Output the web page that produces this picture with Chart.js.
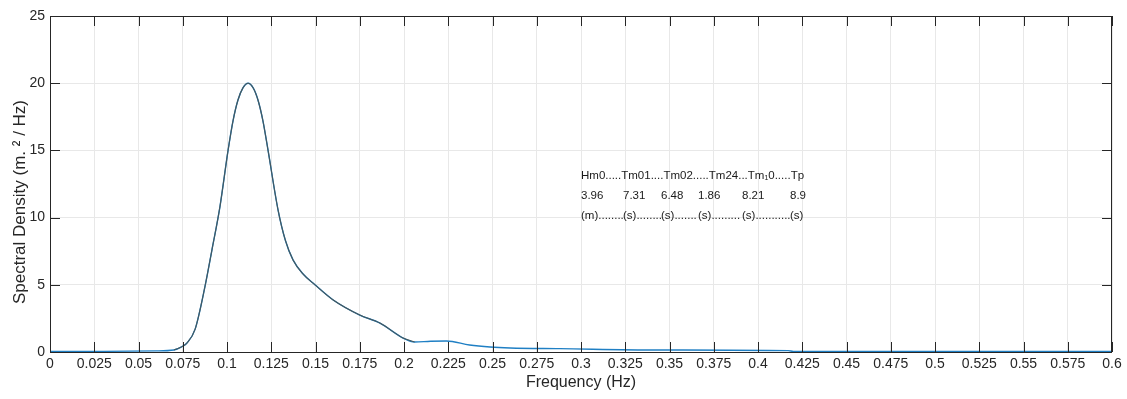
<!DOCTYPE html>
<html>
<head>
<meta charset="utf-8">
<script src="https://cdn.jsdelivr.net/npm/chart.js@4.4.1/dist/chart.umd.min.js"></script>
<style>
  html, body { margin: 0; padding: 0; background: #fff; }
  #wrap { width: 1127px; height: 399px; }
</style>
</head>
<body>
<div id="wrap"><canvas id="spectrumChart" width="1127" height="399"></canvas></div>
<script>
// spectrum
const freq = [0, 0.03, 0.06, 0.07, 0.0746, 0.0774, 0.082, 0.0876, 0.0915, 0.096, 0.1006, 0.1034, 0.1062, 0.109, 0.1119, 0.1148, 0.1175, 0.1203, 0.1232, 0.1288, 0.133, 0.1373, 0.143, 0.1497, 0.16, 0.175, 0.1864, 0.1995, 0.206, 0.215, 0.224, 0.237, 0.2486, 0.26, 0.288, 0.343, 0.417, 0.42, 0.5, 0.6];
const density = [0.05, 0.05, 0.08, 0.15, 0.4, 0.67, 1.7, 4.9, 7.6, 10.8, 15, 17.2, 18.75, 19.65, 20, 19.65, 18.75, 17.2, 15, 10.6, 8.3, 6.85, 5.8, 5.0, 3.87, 2.75, 2.15, 1.04, 0.74, 0.8, 0.82, 0.52, 0.37, 0.3, 0.25, 0.15, 0.1, 0.05, 0.05, 0.05];

const xTicks = [0, 0.025, 0.05, 0.075, 0.1, 0.125, 0.15, 0.175, 0.2, 0.225, 0.25, 0.275, 0.3, 0.325, 0.35, 0.375, 0.4, 0.425, 0.45, 0.475, 0.5, 0.525, 0.55, 0.575, 0.6];
const xTickLabels = ['0', '0.025', '0.05', '0.075', '0.1', '0.125', '0.15', '0.175', '0.2', '0.225', '0.25', '0.275', '0.3', '0.325', '0.35', '0.375', '0.4', '0.425', '0.45', '0.475', '0.5', '0.525', '0.55', '0.575', '0.6'];
const yTicks = [0, 5, 10, 15, 20, 25];
const yTickLabels = ['0', '5', '10', '15', '20', '25'];

// wave parameters box
const paramHeader = 'Hm0.....Tm01....Tm02.....Tm24...Tm\u20810.....Tp';
const paramValues = ['3.96', '7.31', '6.48', '1.86', '8.21', '8.9'];
const paramUnits = ['(m)', '(s)', '(s)', '(s)', '(s)', '(s)'];

const axisColor = '#262626';
const gridColor = '#e8e8e8';
const fontFamily = 'Liberation Sans, Arial, Helvetica, sans-serif';

const points = freq.map((f, i) => ({ x: f, y: density[i] }));
const peakPart = points.filter(p => p.x >= 0.07 && p.x <= 0.21);

// box, inward ticks, y title and text block
const matlabAxes = {
  id: 'matlabAxes',
  afterDraw(chart) {
    const { ctx, chartArea: a, scales: { x, y } } = chart;
    ctx.save();
    ctx.strokeStyle = axisColor;
    ctx.lineWidth = 1;
    ctx.strokeRect(a.left + 0.5, a.top + 0.5, a.right - a.left - 1, a.bottom - a.top);
    ctx.beginPath();
    xTicks.forEach(v => {
      const px = Math.round(x.getPixelForValue(v)) + 0.5;
      ctx.moveTo(px, a.bottom); ctx.lineTo(px, a.bottom - 10);
      ctx.moveTo(px, a.top); ctx.lineTo(px, a.top + 10);
    });
    yTicks.forEach(v => {
      const py = Math.round(y.getPixelForValue(v)) + 0.5;
      ctx.moveTo(a.left, py); ctx.lineTo(a.left + 10, py);
      ctx.moveTo(a.right, py); ctx.lineTo(a.right - 10, py);
    });
    ctx.stroke();

    ctx.fillStyle = axisColor;
    ctx.font = '17px ' + fontFamily;
    ctx.textAlign = 'center';
    ctx.textBaseline = 'middle';
    ctx.translate(20, (a.top + a.bottom) / 2 + 18);
    ctx.rotate(-Math.PI / 2);
    ctx.fillText('Spectral Density (m. \u00b2 / Hz)', 0, 0);
    ctx.restore();

    ctx.save();
    ctx.fillStyle = '#1a1a1a';
    ctx.font = '11.5px ' + fontFamily;
    ctx.textBaseline = 'middle';
    const x0 = x.getPixelForValue(0.3);
    const cols = [0, 42, 80, 117, 161, 209];
    ctx.fillText(paramHeader, x0, y.getPixelForValue(13.1));
    paramValues.forEach((t, i) => ctx.fillText(t, x0 + cols[i], y.getPixelForValue(11.6)));
    const yU = y.getPixelForValue(10.1);
    const dotW = ctx.measureText('.').width;
    paramUnits.forEach((t, i) => {
      const sx = x0 + cols[i];
      ctx.fillText(t, sx, yU);
      if (i < paramUnits.length - 1) {
        let dx = sx + ctx.measureText(t).width;
        const end = x0 + cols[i + 1];
        while (dx + dotW * 0.6 <= end) {
          ctx.fillText('.', dx, yU);
          dx += dotW;
        }
      }
    });
    ctx.restore();
  }
};

new Chart(document.getElementById('spectrumChart'), {
  type: 'scatter',
  data: {
    datasets: [
      {
        data: peakPart,
        showLine: true,
        borderColor: '#46575b',
        borderWidth: 1.1,
        pointRadius: 0,
        cubicInterpolationMode: 'monotone'
      },
      {
        data: points,
        showLine: true,
        borderColor: '#1f7fc4',
        borderWidth: 1.4,
        pointRadius: 0,
        cubicInterpolationMode: 'monotone'
      }
    ]
  },
  options: {
    responsive: false,
    animation: false,
    layout: { padding: { top: 16, right: 15, left: 0, bottom: 0 } },
    plugins: { legend: { display: false }, tooltip: { enabled: false } },
    scales: {
      x: {
        type: 'linear',
        min: 0,
        max: 0.6,
        afterFit: s => { s.height = 47; },
        afterBuildTicks: s => { s.ticks = xTicks.map(v => ({ value: v })); },
        grid: { color: gridColor, drawTicks: false },
        border: { display: false },
        ticks: {
          color: axisColor,
          padding: 4,
          maxRotation: 0,
          autoSkip: false,
          font: { family: fontFamily, size: 14 },
          callback: (v, i) => xTickLabels[i]
        },
        title: {
          display: true,
          text: 'Frequency (Hz)',
          color: axisColor,
          font: { family: fontFamily, size: 16 },
          padding: { top: 0, bottom: 7 }
        }
      },
      y: {
        type: 'linear',
        min: 0,
        max: 25,
        afterFit: s => { s.width = 50; },
        afterBuildTicks: s => { s.ticks = yTicks.map(v => ({ value: v })); },
        grid: { color: gridColor, drawTicks: false },
        border: { display: false },
        ticks: {
          color: axisColor,
          padding: 5,
          autoSkip: false,
          font: { family: fontFamily, size: 14 },
          callback: (v, i) => yTickLabels[i]
        }
      }
    }
  },
  plugins: [matlabAxes]
});
</script>
</body>
</html>
